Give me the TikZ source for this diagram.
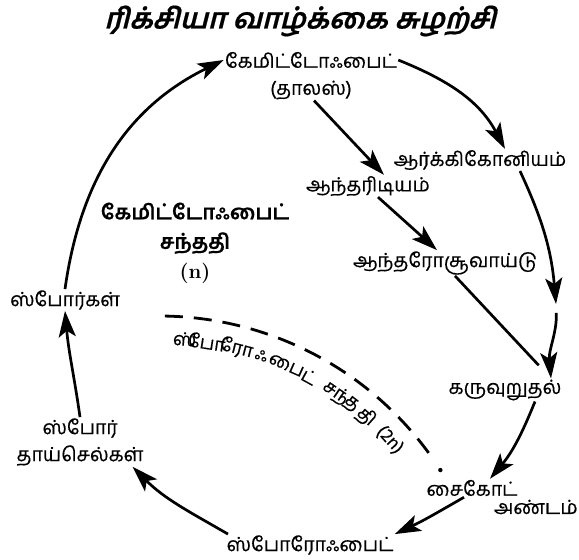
\documentclass[tikz,border=0pt]{standalone}
\usepackage{fontspec}
\newfontfamily\tam[Script=Tamil,FakeBold=0.4]{Hind Madurai}
\newfontfamily\tamslant[Script=Tamil,FakeSlant=0.25,FakeBold=0.6]{Hind Madurai}
\usetikzlibrary{arrows.meta,calc}
\tikzset{
  lbl/.style={font=\tam\fontsize{19.5}{27}\selectfont, inner sep=1pt, align=center},
  genlbl/.style={font=\tam\bfseries\fontsize{20.5}{29.5}\selectfont, inner sep=1pt, align=center},
  arclbl/.style={font=\tam\fontsize{18.5}{20}\selectfont, inner sep=0pt},
  ttl/.style={font=\tamslant\bfseries\fontsize{28.5}{32}\selectfont, inner sep=0pt},
  cyc/.style={line width=2.7pt, -{Stealth[length=26pt,width=17pt,inset=6pt]}},
  plainline/.style={line width=2.7pt},
  gendash/.style={line width=2.8pt, dash pattern=on 18pt off 11pt}
}
\begin{document}
\begin{tikzpicture}[x=1pt,y=1pt]
\useasboundingbox (0,0) rectangle (579,560);

% title
\node[ttl] (title) at (300,539) {ரிக்சியா வாழ்க்கை சுழற்சி};

% stages of the cycle
\node[lbl] (gam) at (311,500) {கேமிட்டோஃபைட்};
\node[lbl] (thal) at (311,470) {(தாலஸ்)};
\node[lbl] (arch) at (480,400) {ஆர்க்கிகோனியம்};
\node[lbl] (anth) at (368,374) {ஆந்தரிடியம்};
\node[lbl] (antz) at (445,297) {ஆந்தரோசூவாய்டு};
\node[lbl] (fert) at (505,170) {கருவுறுதல்};
\node[lbl] (zyg) at (472,72) {சைகோட்};
\node[lbl, anchor=east] (egg) at (579,53) {அண்டம்};
\node[lbl] (sporo) at (310,15) {ஸ்போரோஃபைட்};
\node[lbl] (smc) at (80,118) {ஸ்போர்\\தாய்செல்கள்};
\node[lbl] (spores) at (65,260) {ஸ்போர்கள்};
\node[genlbl] (gen1) at (195,317) {கேமிட்டோஃபைட்\\சந்ததி\\{\normalfont\bfseries (n)}};

% junction on the right side of the cycle
\coordinate (mid) at (556,256);

% arrows
\draw[cyc] (spores.north) to[out=82,in=206] (gam.west);
\draw[cyc] (gam.east) to[out=-22,in=118] ([xshift=25pt]arch.north);
\draw[cyc] ([xshift=3pt]thal.south) -- ([xshift=16pt]anth.north);
\draw[cyc] ([xshift=40pt]arch.south) to[out=-65,in=95] (mid);
\draw[cyc, shorten <=9pt] (mid) to[out=-88,in=95] ([xshift=46pt]fert.north);
\draw[cyc] ([xshift=10pt]anth.south) -- ([xshift=-8pt]antz.north);
\draw[plainline, shorten >=18pt] ([xshift=10pt]antz.south) -- ([xshift=46pt]fert.north);
\draw[cyc] ([xshift=30pt]fert.south) to[out=-112,in=50] ([xshift=18pt]zyg.north);
\draw[cyc] ([xshift=-8pt]zyg.south) to[out=-150,in=25] (sporo.north east);
\draw[cyc] ([xshift=-82pt]sporo.north) to[out=150,in=-45] ([xshift=-12pt]smc.south east);
\draw[cyc] (smc.north) to[out=98,in=-85] (spores.south);

% boundary between the two generations
\coordinate (c) at (159,-90);
\draw[gendash] (c) ++(89:334) arc[start angle=89, end angle=35, radius=334];
\fill (c) ++(32.6:334) circle (2.2pt);

% generation name set syllable by syllable along a circle of radius 312
\foreach \a/\t [count=\i] in {85.3/ஸ், 81.2/போ, 75.6/ரோ, 70.8/ஃ, 65.9/பை, 61.2/ட், 55.5/சந், 52/த, 48.4/தி, 42.3/(2n)}
  \path (c) ++(\a:312) node[arclbl, rotate=\a-90] (arc\i) {\t};
\end{tikzpicture}
\end{document}
